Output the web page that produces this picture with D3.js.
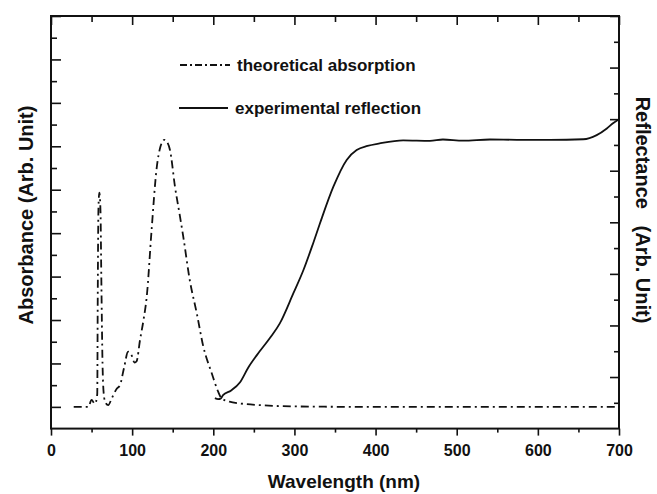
<!DOCTYPE html>
<html>
<head>
<meta charset="utf-8">
<script src="https://cdn.jsdelivr.net/npm/d3@7/dist/d3.min.js"></script>
<style>
  html, body { margin: 0; padding: 0; background: #fff; }
  svg { display: block; font-family: "Liberation Sans", Arial, Helvetica, sans-serif; }
</style>
</head>
<body>
<svg id="chart" width="657" height="494"></svg>
<script>
// ---- data ----
const absWavelength = [28, 46, 50, 54, 55.5, 57, 57.6, 58.5, 59.6, 61, 62, 63.5, 65, 67, 70.5, 75, 81, 85, 90, 95, 99, 103, 105.5, 109.7, 114, 118, 124, 130, 135, 139.6, 143, 146.7, 152.8, 159, 163, 171, 179.6, 187.7, 198, 206, 210, 220, 233, 258, 300, 400, 500, 600, 700];
const absValue      = [0.0, 0.0, 0.16, 0.07, 0.12, 0.3, 2.5, 4.6, 4.93, 4.5, 3.0, 1.0, 0.3, 0.1, 0.04, 0.2, 0.42, 0.5, 0.9, 1.27, 1.2, 1.02, 1.05, 1.54, 2.0, 2.54, 4.08, 5.46, 6.0, 6.15, 6.1, 5.91, 5.07, 4.38, 3.92, 2.92, 2.16, 1.39, 0.78, 0.35, 0.2, 0.12, 0.08, 0.04, 0.01, 0.0, 0.0, 0.0, 0.0];

const refWavelength = [202, 206, 209, 212, 222, 233, 243, 253.5, 270, 282, 298.6, 311, 323, 331.5, 348, 364.4, 376.7, 390, 405, 434, 467, 483, 508, 541, 574, 615, 656, 672.5, 685, 692.6, 700];
const refValue      = [0.59, 0.57, 0.58, 0.65, 0.74, 0.9, 1.18, 1.42, 1.76, 2.04, 2.62, 3.07, 3.59, 3.98, 4.69, 5.21, 5.40, 5.48, 5.53, 5.59, 5.58, 5.605, 5.585, 5.605, 5.6, 5.6, 5.61, 5.69, 5.82, 5.92, 6.0];

const xMajorTicks = [0, 100, 200, 300, 400, 500, 600, 700];
const xMinorTicks = [50, 150, 250, 350, 450, 550, 650];
const absMajorTicks = [0, 1, 2, 3, 4, 5, 6, 7, 8, 9];
const absMinorTicks = [0.5, 1.5, 2.5, 3.5, 4.5, 5.5, 6.5, 7.5, 8.5];
const refMajorTicks = [1, 2, 3, 4, 5, 6, 7, 8];
const refMinorTicks = [0.5, 1.5, 2.5, 3.5, 4.5, 5.5, 6.5, 7.5];

const legendLabels = ["theoretical absorption", "experimental reflection"];
const xTitle = "Wavelength (nm)";
const leftTitle = "Absorbance (Arb. Unit)";
const rightTitle = "Reflectance\u00A0\u00A0 (Arb. Unit)";

// ---- layout ----
const L = 51, R = 619, T = 16, B = 428.6;
const svg = d3.select("#chart");
const x  = d3.scaleLinear().domain([0, 700]).range([L, R]);
const yA = d3.scaleLinear().domain([-0.5, 9]).range([B, T]);
const yR = d3.scaleLinear().domain([0, 8]).range([B, T]);

const ink = "#111";

function styleAxis(g) {
  g.select(".domain").remove();
  g.selectAll(".tick line").attr("stroke", ink).attr("stroke-width", 1.6);
  g.selectAll(".tick text").attr("fill", ink);
}

// bottom axis (outward ticks, labelled)
svg.append("g").attr("transform", `translate(0,${B})`)
  .call(d3.axisBottom(x).tickValues(xMajorTicks).tickSize(7).tickPadding(9).tickFormat(d3.format("d")))
  .call(styleAxis)
  .call(g => g.selectAll(".tick text").attr("font-size", 16).attr("font-weight", "bold").attr("font-family", "Liberation Sans, Arial, sans-serif"));
svg.append("g").attr("transform", `translate(0,${B})`)
  .call(d3.axisBottom(x).tickValues(xMinorTicks).tickSize(4).tickFormat(""))
  .call(styleAxis);

// top axis (inward ticks)
svg.append("g").attr("transform", `translate(0,${T})`)
  .call(d3.axisTop(x).tickValues(xMajorTicks).tickSize(-9).tickFormat(""))
  .call(styleAxis);
svg.append("g").attr("transform", `translate(0,${T})`)
  .call(d3.axisTop(x).tickValues(xMinorTicks).tickSize(-6).tickFormat(""))
  .call(styleAxis);

// left axis (inward ticks)
svg.append("g").attr("transform", `translate(${L},0)`)
  .call(d3.axisLeft(yA).tickValues(absMajorTicks).tickSize(-10).tickFormat(""))
  .call(styleAxis);
svg.append("g").attr("transform", `translate(${L},0)`)
  .call(d3.axisLeft(yA).tickValues(absMinorTicks).tickSize(-6).tickFormat(""))
  .call(styleAxis);

// right axis (inward ticks)
svg.append("g").attr("transform", `translate(${R},0)`)
  .call(d3.axisRight(yR).tickValues(refMajorTicks).tickSize(-9).tickFormat(""))
  .call(styleAxis);
svg.append("g").attr("transform", `translate(${R},0)`)
  .call(d3.axisRight(yR).tickValues(refMinorTicks).tickSize(-5).tickFormat(""))
  .call(styleAxis);

// frame
svg.append("rect").attr("x", L).attr("y", T).attr("width", R - L).attr("height", B - T)
  .attr("fill", "none").attr("stroke", ink).attr("stroke-width", 2);

// curves
const absData = absWavelength.map((w, i) => [w, absValue[i]]);
const refData = refWavelength.map((w, i) => [w, refValue[i]]);

const absLine = d3.line().x(d => x(d[0])).y(d => yA(d[1])).curve(d3.curveMonotoneX);
const refLine = d3.line().x(d => x(d[0])).y(d => yR(d[1])).curve(d3.curveMonotoneX);

const dashDot = "8,4,2,4";

svg.append("path").datum(absData).attr("d", absLine)
  .attr("fill", "none").attr("stroke", ink).attr("stroke-width", 1.8)
  .attr("stroke-dasharray", dashDot);
svg.append("path").datum(refData).attr("d", refLine)
  .attr("fill", "none").attr("stroke", ink).attr("stroke-width", 1.8);

// legend
const leg = svg.append("g");
leg.append("line").attr("x1", 180).attr("x2", 230).attr("y1", 65).attr("y2", 65)
  .attr("stroke", ink).attr("stroke-width", 1.8).attr("stroke-dasharray", "7,3,2,3");
leg.append("text").attr("x", 237).attr("y", 71).text(legendLabels[0])
  .attr("font-size", 17).attr("font-weight", "bold").attr("fill", ink);
leg.append("line").attr("x1", 179).attr("x2", 228).attr("y1", 108).attr("y2", 108)
  .attr("stroke", ink).attr("stroke-width", 1.8);
leg.append("text").attr("x", 235).attr("y", 114).text(legendLabels[1])
  .attr("font-size", 17).attr("font-weight", "bold").attr("fill", ink);

// titles
svg.append("text").attr("x", 344).attr("y", 488).attr("text-anchor", "middle")
  .attr("font-size", 19).attr("font-weight", "bold").attr("fill", ink).text(xTitle);
svg.append("text").attr("transform", "translate(33,215) rotate(-90)").attr("text-anchor", "middle")
  .attr("font-size", 20).attr("font-weight", "bold").attr("fill", ink).text(leftTitle);
svg.append("text").attr("transform", "translate(636,210) rotate(90)").attr("text-anchor", "middle")
  .attr("font-size", 20).attr("font-weight", "bold").attr("fill", ink).text(rightTitle);
</script>
</body>
</html>
